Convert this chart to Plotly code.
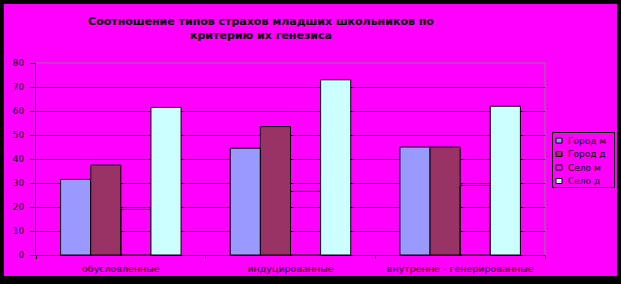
import plotly.graph_objects as go

categories = ["обусловленные", "индуцированные", "внутренне - генерированные"]
series_names = ["Город м", "Город д", "Село м", "Село д"]
gorod_m = [31.5, 44.5, 45]
gorod_d = [37.5, 53.5, 45]
selo_m = [19, 26.5, 29]
selo_d = [61.5, 73, 62]
y_ticks = [0, 10, 20, 30, 40, 50, 60, 70, 80]

W, H = 621, 284
L, R, T, B = 36, 545, 63, 255
MAG = "#FF00FF"
FONT = "DejaVu Sans"

fills = ["#9999FF", "#993366", "rgba(0,0,0,0)", "#CCFFFF"]
legend_fills = ["#9999FF", "#993366", MAG, "#CCFFFF"]
values = [gorod_m, gorod_d, selo_m, selo_d]

fig = go.Figure()
for name, vals, col in zip(series_names, values, fills):
    fig.add_trace(go.Bar(
        x=categories, y=vals, name=name,
        marker=dict(color=col, line=dict(color="black", width=1)),
    ))

def px_x(p):
    return (p - L) / (R - L)

def px_y(p):
    return (B - p) / (B - T)

shapes = [
    # black frame around chart
    dict(type="rect", x0=px_x(-2), x1=px_x(4), y0=px_y(290), y1=px_y(-2)),
    dict(type="rect", x0=px_x(617), x1=px_x(625), y0=px_y(290), y1=px_y(-2)),
    dict(type="rect", x0=px_x(-2), x1=px_x(625), y0=px_y(4), y1=px_y(-2)),
    dict(type="rect", x0=px_x(-2), x1=px_x(625), y0=px_y(290), y1=px_y(276)),
]
for s in shapes:
    s.update(xref="paper", yref="paper", layer="above",
             fillcolor="black", line=dict(width=0))
shapes += [
    dict(type="line", xref="paper", yref="paper", layer="above",
         x0=0, x1=1, y0=1, y1=1, line=dict(color="#808080", width=1)),
    dict(type="line", xref="paper", yref="paper", layer="above",
         x0=1, x1=1, y0=0, y1=1, line=dict(color="#808080", width=1)),
    # legend box
    dict(type="rect", xref="paper", yref="paper", layer="above",
         x0=px_x(552.5), x1=px_x(614.5), y0=px_y(187.5), y1=px_y(132.5),
         fillcolor=MAG, line=dict(color="black", width=1)),
]
annotations = []
item_y = [140.5, 154, 167.5, 181]
for name, col, yc in zip(series_names, legend_fills, item_y):
    shapes.append(dict(type="rect", xref="paper", yref="paper", layer="above",
                       x0=px_x(556), x1=px_x(562), y0=px_y(yc + 2.5), y1=px_y(yc - 2.5),
                       fillcolor=col, line=dict(color="black", width=1)))
    annotations.append(dict(text=name, xref="paper", yref="paper",
                            x=px_x(566), y=px_y(yc), xanchor="left", yanchor="middle",
                            showarrow=False,
                            font=dict(family=FONT, size=9, color="black")))

fig.update_layout(
    width=W, height=H,
    margin=dict(l=L, r=W - R, t=T, b=H - B, autoexpand=False),
    paper_bgcolor=MAG,
    plot_bgcolor=MAG,
    barmode="group", bargap=0.29, bargroupgap=0,
    font=dict(family=FONT, color="black", size=9),
    title=dict(
        text="<b>Соотношение типов страхов младших школьников по<br>критерию их генезиса</b>",
        x=261 / W, xanchor="center", xref="container",
        y=1 - 24.5 / H, yanchor="middle", yref="container",
        font=dict(size=11, color="black", family=FONT),
    ),
    showlegend=False,
    shapes=shapes,
    annotations=annotations,
)
fig.update_xaxes(
    showline=True, linecolor="black", linewidth=1,
    ticks="outside", ticklen=3, tickcolor="black", tickson="boundaries",
    ticklabelstandoff=5,
    showgrid=False, tickfont=dict(size=9.5, color="black", family=FONT),
)
fig.update_yaxes(
    range=[0, 80], tickvals=y_ticks,
    showline=True, linecolor="black", linewidth=1,
    ticks="outside", ticklen=5, tickcolor="black",
    ticklabelstandoff=4,
    showgrid=True, gridcolor="black", gridwidth=1, zeroline=False,
    tickfont=dict(size=9, color="black", family=FONT),
)

fig.write_html("out.html")
